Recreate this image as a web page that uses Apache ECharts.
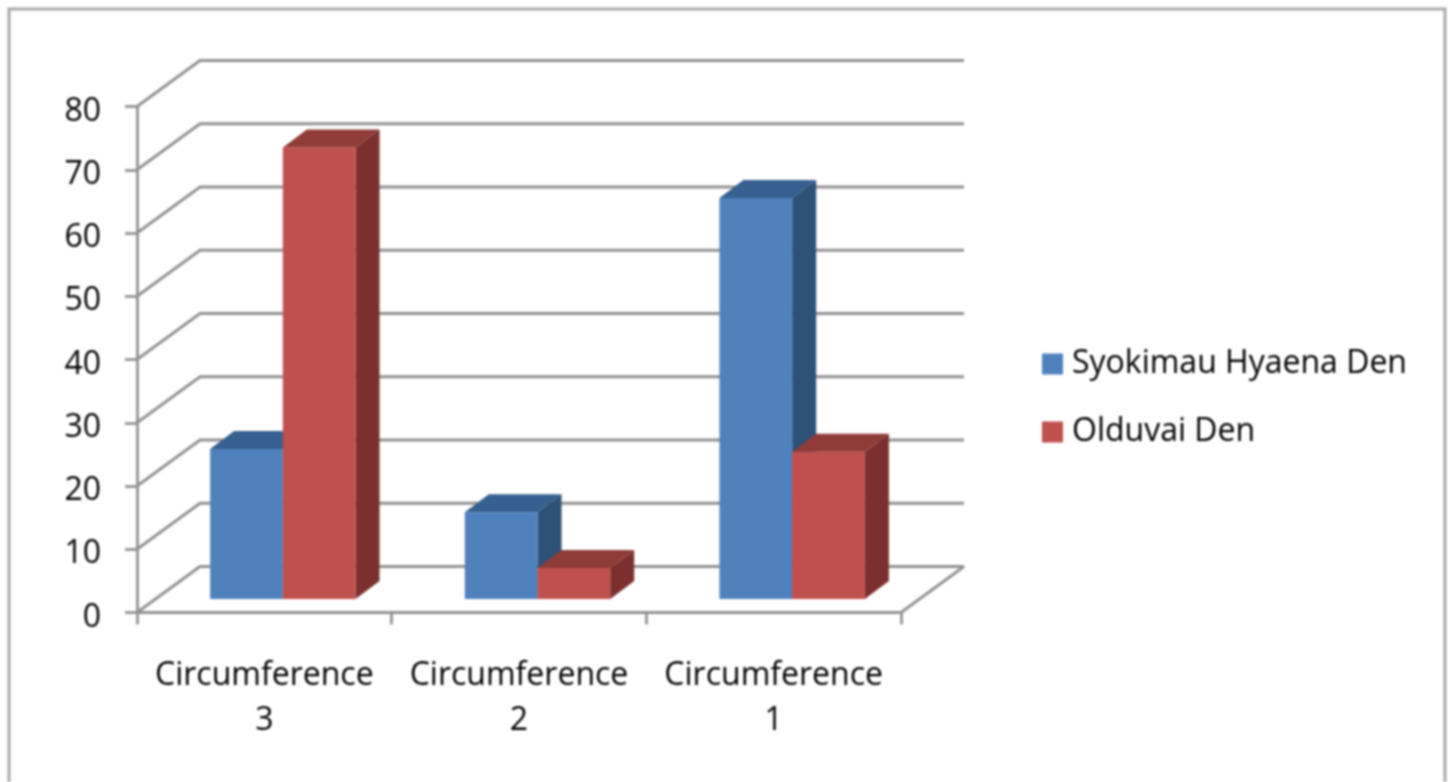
<!DOCTYPE html>
<html><head><meta charset="utf-8">
<style>html,body{margin:0;padding:0;background:#fff;overflow:hidden}#c{width:1448px;height:782px;filter:blur(0.8px)}</style>
<script src="https://cdn.jsdelivr.net/npm/echarts@6/dist/echarts.min.js"></script>
</head><body><div id="c"></div>
<script>
const categories = ['Circumference\n3', 'Circumference\n2', 'Circumference\n1'];
const syokimau = [23.7, 13.7, 63.4];
const olduvai = [71.4, 4.9, 23.3];
const yTicks = [0, 10, 20, 30, 40, 50, 60, 70, 80];

const LINE = '#929292', LW = 2.8, FONT = '"Open Sans","Noto Sans",sans-serif', TXT = '#000000';
const WALL = [63, -46], FLOOR = [18.5, -13.5], DEPTH = [24, -18], BAR_FRAC = 0.2855;

function wall(params, api) {
  const cs = params.coordSys, v = api.value(0);
  const y = api.coord([0, v])[1], x0 = cs.x, x1 = cs.x + cs.width;
  const ls = { stroke: LINE, lineWidth: LW, fill: null };
  const kids = [{ type: 'polyline', shape: { points: [[x0, y], [x0 + WALL[0], y + WALL[1]], [x1 + WALL[0], y + WALL[1]]] }, style: ls }];
  if (v === 0) kids.push({ type: 'polyline', shape: { points: [[x1, y], [x1 + WALL[0], y + WALL[1]]] }, style: ls });
  return { type: 'group', children: kids };
}
function bar(side, front, top, dark) {
  return function (params, api) {
    const c = api.coord([api.value(0), api.value(1)]);
    const base = api.coord([api.value(0), 0]);
    const w = api.size([1, 0])[0] * BAR_FRAC;
    const xl = c[0] + FLOOR[0] + (side < 0 ? -w : 0), xr = xl + w;
    const yt = c[1] + FLOOR[1], yb = base[1] + FLOOR[1];
    const dx = DEPTH[0], dy = DEPTH[1];
    const poly = (pts, fill) => ({ type: 'polygon', shape: { points: pts }, style: { fill, stroke: null } });
    return { type: 'group', children: [
      poly([[xr, yt], [xr + dx, yt + dy], [xr + dx, yb + dy], [xr, yb]], dark),
      poly([[xl, yt], [xl + dx, yt + dy], [xr + dx, yt + dy], [xr, yt]], top),
      poly([[xl, yt], [xr, yt], [xr, yb], [xl, yb]], front)
    ] };
  };
}
const chart = echarts.init(document.getElementById('c'), null, { renderer: 'canvas' });
chart.setOption({
  animation: false,
  backgroundColor: '#fff',
  grid: { left: 137, top: 106.5, width: 764, height: 506, containLabel: false },
  legend: {
    data: ['Syokimau Hyaena Den', 'Olduvai Den'], orient: 'vertical', left: 1037, top: 338,
    icon: 'rect', itemWidth: 21, itemHeight: 21, itemGap: 26,
    textStyle: { fontFamily: FONT, fontSize: 32, color: TXT, lineHeight: 36, padding: [6, 0, 0, 4] }, selectedMode: false
  },
  xAxis: {
    type: 'category', data: categories,
    axisLine: { lineStyle: { color: LINE, width: LW } },
    axisTick: { show: true, length: 12, lineStyle: { color: LINE, width: LW } },
    axisLabel: { fontFamily: FONT, fontSize: 32, color: TXT, lineHeight: 45, margin: 41, interval: 0 }
  },
  yAxis: {
    type: 'value', min: 0, max: 80, interval: 10,
    splitLine: { show: false },
    axisLine: { show: true, lineStyle: { color: LINE, width: LW } },
    axisTick: { show: true, length: 12, lineStyle: { color: LINE, width: LW } },
    axisLabel: { fontFamily: FONT, fontSize: 32, color: TXT, margin: 36, verticalAlign: 'top', lineHeight: 10 }
  },
  graphic: [{ type: 'polyline', silent: true, shape: { points: [[9, 782], [9, 9], [1445, 9], [1445, 782]] }, style: { stroke: '#a8a8a8', lineWidth: 3, fill: null } }],
  series: [
    { type: 'custom', name: 'walls', silent: true, data: yTicks.map(v => [v]), encode: { y: 0 }, renderItem: wall, z: 1 },
    { type: 'custom', name: 'Syokimau Hyaena Den', itemStyle: { color: '#4f81bd' }, data: syokimau.map((v, i) => [i, v]), encode: { x: 0, y: 1 }, renderItem: bar(-1, '#4f81bd', '#35608f', '#2d5177'), z: 2 },
    { type: 'custom', name: 'Olduvai Den', itemStyle: { color: '#c0504d' }, data: olduvai.map((v, i) => [i, v]), encode: { x: 0, y: 1 }, renderItem: bar(1, '#c0504d', '#8f3b38', '#7b302f'), z: 3 }
  ]
});
</script></body></html>
